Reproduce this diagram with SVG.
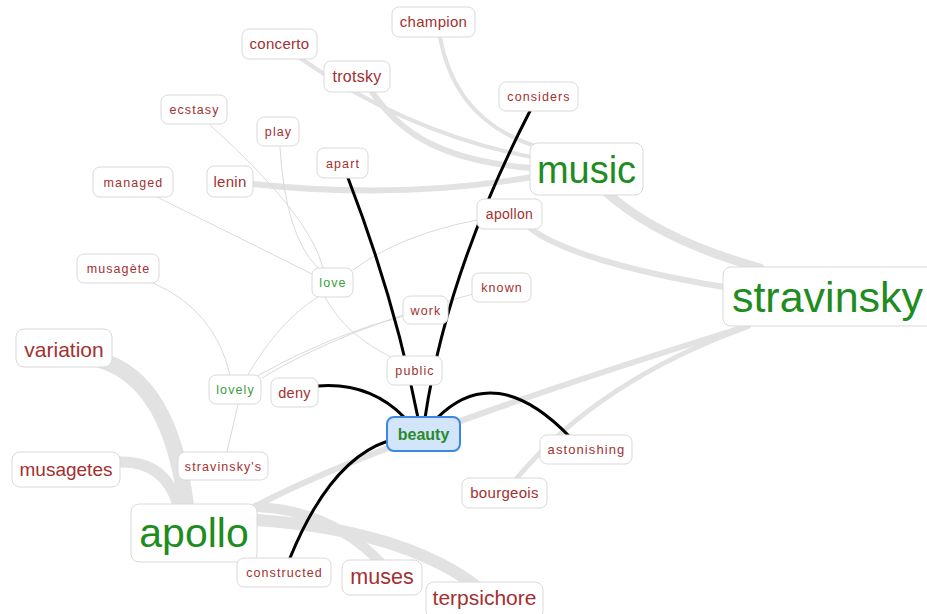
<svg xmlns="http://www.w3.org/2000/svg" width="927" height="614" viewBox="0 0 927 614">
  <style>
    .bg { fill: #ffffff; }
    .box { fill: #ffffff; stroke: #d9d9d9; stroke-width: 1; }
    .sel { fill: #d2e5fb; stroke: #3c87e6; stroke-width: 2; }
    text { font-family: "Liberation Sans", Arial, sans-serif; text-anchor: middle; }
    .r { fill: #a3302f; }
    .g { fill: #1e8c1e; }
    .lg { fill: #3a9e3a; }
    .s { font-size: 12.5px; letter-spacing: 1.1px; }
    .m { font-size: 15px; letter-spacing: 0.3px; }
    .heavy { fill: none; stroke: #e2e2e2; stroke-linecap: round; }
    .thin { fill: none; stroke: #dadada; stroke-width: 1; }
    .hl { fill: none; stroke: #000000; stroke-width: 3; stroke-linecap: round; }
  </style>

  <rect class="bg" x="0" y="0" width="927" height="614"/>

  <!-- connectors -->
  <g id="edges">
    <!-- weighted links -->
    <path class="heavy" stroke-width="4" d="M440 37 Q 455 120 535 146"/>
    <path class="heavy" stroke-width="4" d="M300 58 C 360 100, 440 140, 532 157"/>
    <path class="heavy" stroke-width="6" d="M372 92 C 395 125, 430 160, 532 168"/>
    <path class="heavy" stroke-width="6" d="M253 184 Q 400 200 532 177"/>
    <path class="heavy" stroke-width="9" d="M607 193 Q 660 240 760 268"/>
    <path class="heavy" stroke-width="6" d="M530 228 C 555 248, 620 270, 724 287"/>
    <path class="heavy" stroke-width="6" d="M256 506 Q 380 440 748 326"/>
    <path class="heavy" stroke-width="5" d="M747 327 Q 600 380 517 478"/>
    <path class="heavy" stroke-width="16" d="M100 360 Q 170 380 186 505"/>
    <path class="heavy" stroke-width="11" d="M118 462 Q 165 460 178 505"/>
    <path class="heavy" stroke-width="10" d="M257 507 Q 330 510 380 562"/>
    <path class="heavy" stroke-width="12" d="M257 520 Q 400 530 475 585"/>

    <!-- light links -->
    <path class="thin" d="M210 125 Q 310 215 323 268"/>
    <path class="thin" d="M280 147 Q 285 235 318 268"/>
    <path class="thin" d="M157 197 L 312 274"/>
    <path class="thin" d="M318 297 Q 280 320 247 376"/>
    <path class="thin" d="M353 270 Q 400 235 477 220"/>
    <path class="thin" d="M325 297 Q 345 335 393 358"/>
    <path class="thin" d="M153 283 Q 215 310 230 375"/>
    <path class="thin" d="M238 404 L 227 452"/>
    <path class="thin" d="M257 376 Q 330 335 404 316"/>
    <path class="thin" d="M262 378 Q 340 330 473 294"/>

    <!-- links of the selected word -->
    <path class="hl" d="M418 418 Q 395 300 348 178"/>
    <path class="hl" d="M425 418 Q 447 272 530 111"/>
    <path class="hl" d="M318 386 Q 370 382 405 418"/>
    <path class="hl" d="M437 418 Q 495 360 569 436"/>
    <path class="hl" d="M388 441 Q 330 460 290 558"/>
  </g>

  <!-- nodes -->
  <g id="champion"><rect class="box" x="392" y="7" width="83" height="30" rx="7"/><text class="r m" x="433.5" y="27">champion</text></g>
  <g id="concerto"><rect class="box" x="242" y="29" width="75" height="30" rx="7"/><text class="r m" x="279.5" y="49">concerto</text></g>
  <g id="trotsky"><rect class="box" x="324" y="61" width="66" height="31" rx="7"/><text class="r m" x="357" y="82" style="font-size:16px">trotsky</text></g>
  <g id="considers"><rect class="box" x="499" y="82" width="79" height="29" rx="7"/><text class="r s" x="539" y="101">considers</text></g>
  <g id="ecstasy"><rect class="box" x="161" y="95" width="66" height="29" rx="7"/><text class="r s" x="194.5" y="114">ecstasy</text></g>
  <g id="play"><rect class="box" x="257" y="117" width="42" height="29" rx="7"/><text class="r s" x="278.5" y="136">play</text></g>
  <g id="apart"><rect class="box" x="317" y="148" width="51" height="30" rx="7"/><text class="r s" x="343" y="167.5">apart</text></g>
  <g id="music"><rect class="box" x="530" y="143" width="113" height="52" rx="8"/><text class="g" x="586.5" y="183" style="font-size:38px">music</text></g>
  <g id="managed"><rect class="box" x="93" y="167" width="80" height="30" rx="7"/><text class="r s" x="133.5" y="186.5">managed</text></g>
  <g id="lenin"><rect class="box" x="207" y="166" width="46" height="31" rx="7"/><text class="r m" x="230" y="187">lenin</text></g>
  <g id="apollon"><rect class="box" x="477" y="199" width="65" height="30" rx="7"/><text class="r m" x="509.5" y="219" style="font-size:14px">apollon</text></g>
  <g id="stravinsky"><rect class="box" x="723" y="267" width="215" height="59" rx="8"/><text class="g" x="827.5" y="312" style="font-size:43px">stravinsky</text></g>
  <g id="musagete"><rect class="box" x="77" y="254" width="82" height="29" rx="7"/><text class="r s" x="118.5" y="273">musagète</text></g>
  <g id="love"><rect class="box" x="312" y="268" width="41" height="29" rx="7"/><text class="lg s" x="333" y="287">love</text></g>
  <g id="known"><rect class="box" x="472" y="273" width="59" height="29" rx="7"/><text class="r s" x="502" y="292">known</text></g>
  <g id="work"><rect class="box" x="403" y="296" width="45" height="28" rx="7"/><text class="r s" x="426" y="314.5">work</text></g>
  <g id="public"><rect class="box" x="387" y="356" width="55" height="29" rx="7"/><text class="r s" x="415" y="375">public</text></g>
  <g id="variation"><rect class="box" x="16" y="329" width="96" height="38" rx="8"/><text class="r" x="64" y="357" style="font-size:21px">variation</text></g>
  <g id="lovely"><rect class="box" x="209" y="375" width="52" height="29" rx="7"/><text class="lg s" x="235.5" y="394">lovely</text></g>
  <g id="deny"><rect class="box" x="271" y="378" width="47" height="29" rx="7"/><text class="r m" x="294.5" y="397.5" style="font-size:14.5px">deny</text></g>
  <g id="astonishing"><rect class="box" x="540" y="435" width="92" height="29" rx="7"/><text class="r s" x="586.5" y="454" style="font-size:13px">astonishing</text></g>
  <g id="bourgeois"><rect class="box" x="462" y="478" width="85" height="30" rx="7"/><text class="r m" x="504.5" y="498">bourgeois</text></g>
  <g id="musagetes"><rect class="box" x="12" y="452" width="108" height="35" rx="8"/><text class="r" x="66" y="476" style="font-size:19px">musagetes</text></g>
  <g id="stravinskys"><rect class="box" x="178" y="452" width="90" height="28" rx="7"/><text class="r s" x="223.5" y="470.5">stravinsky's</text></g>
  <g id="apollo"><rect class="box" x="131" y="504" width="126" height="58" rx="8"/><text class="g" x="194" y="547" style="font-size:41px">apollo</text></g>
  <g id="constructed"><rect class="box" x="237" y="558" width="94" height="29" rx="7"/><text class="r s" x="284.5" y="577">constructed</text></g>
  <g id="muses"><rect class="box" x="342" y="560" width="80" height="35" rx="8"/><text class="r" x="382" y="584" style="font-size:21.5px">muses</text></g>
  <g id="terpsichore"><rect class="box" x="426" y="582" width="117" height="37" rx="8"/><text class="r" x="484.5" y="605" style="font-size:21px">terpsichore</text></g>
  <g id="beauty"><rect class="sel" x="387" y="417" width="73" height="34" rx="7"/><text class="g" x="423.5" y="440" style="font-size:16px;font-weight:bold;fill:#2b8a2b">beauty</text></g>
</svg>
